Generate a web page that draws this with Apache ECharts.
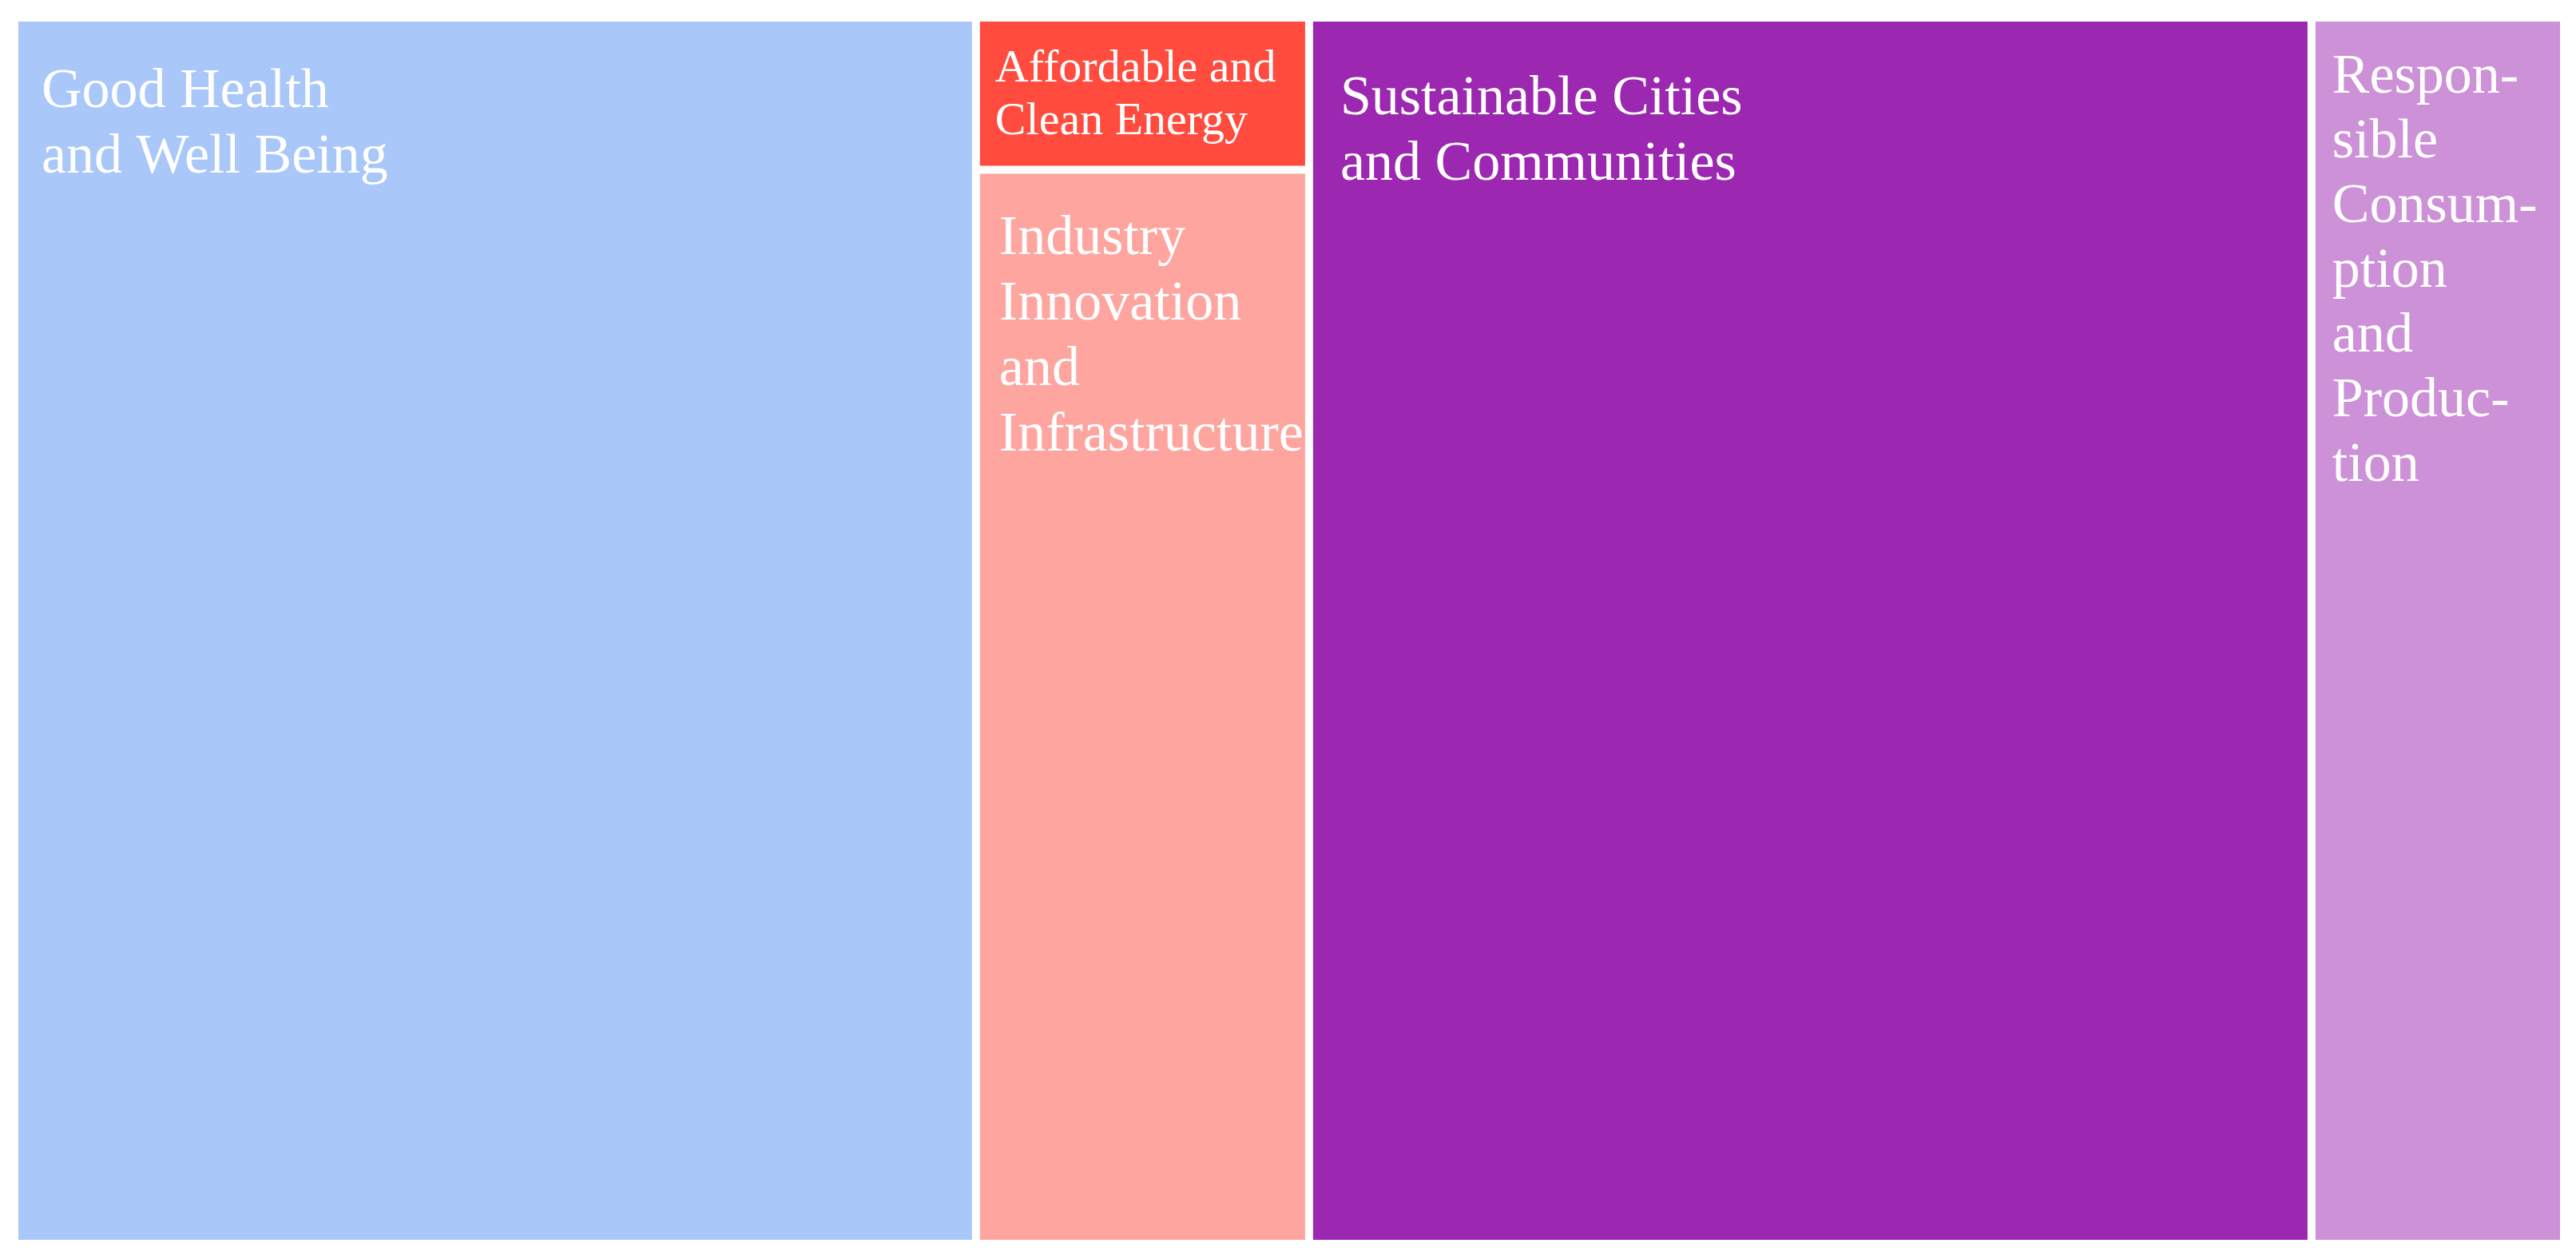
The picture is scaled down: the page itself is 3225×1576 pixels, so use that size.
<!DOCTYPE html>
<html>
<head>
<meta charset="utf-8">
<script src="https://cdn.jsdelivr.net/npm/echarts@6/dist/echarts.min.js"></script>
<style>
  html, body { margin: 0; padding: 0; background: #fff; }
  #chart { width: 3225px; height: 1576px; }
</style>
</head>
<body>
<div id="chart"></div>
<script>
// goal names, shares and the wrapped text shown in each tile
var goals = [
    'Good Health and Well Being',
    'Affordable and Clean Energy',
    'Industry Innovation and Infrastructure',
    'Sustainable Cities and Communities',
    'Responsible Consumption and Production'
];
var shares = [37.7, 1.62, 11.44, 39.3, 9.9];
var labelTexts = [
    'Good Health\nand Well Being',
    'Affordable and\nClean Energy',
    'Industry\nInnovation\nand\nInfrastructure',
    'Sustainable Cities\nand Communities',
    'Respon-\nsible\nConsum-\nption\nand\nProduc-\ntion'
];
var colors = ['#A9C7F9', '#FF4C3E', '#FEA59F', '#9C27B0', '#CD91D7'];

// label offset inside each tile, font size, line height
var labelPos = [[29, 48], [19, 27], [24, 41], [34, 57], [21, 30]];
var labelFont = [70, 58, 70, 70, 70];
var labelLine = [82, 66, 82, 82, 81];

var chart = echarts.init(document.getElementById('chart'));

var data = [];
for (var i = 0; i < goals.length; i++) {
    data.push({
        name: goals[i],
        value: shares[i],
        itemStyle: { color: colors[i] },
        label: {
            position: labelPos[i],
            fontSize: labelFont[i],
            lineHeight: labelLine[i],
            formatter: labelTexts[i]
        }
    });
}

chart.setOption({
    animation: false,
    series: [{
        type: 'treemap',
        left: 23,
        top: 27,
        width: 3182,
        height: 1525,
        sort: false,
        squareRatio: 1,
        roam: false,
        nodeClick: false,
        breadcrumb: { show: false },
        itemStyle: {
            borderWidth: 0,
            gapWidth: 10,
            borderColor: '#fff'
        },
        label: {
            show: true,
            color: '#fff',
            fontFamily: 'Liberation Serif',
            verticalAlign: 'top',
            align: 'left',
            padding: 0,
            overflow: 'none'
        },
        data: data
    }]
});
</script>
</body>
</html>
